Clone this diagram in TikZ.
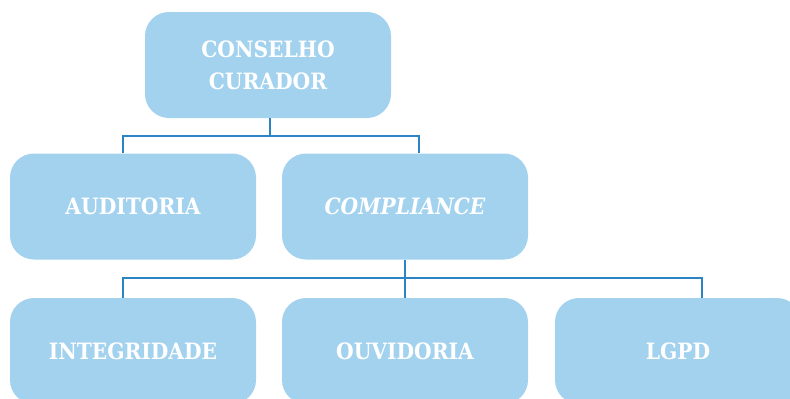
\documentclass[tikz,border=0pt]{standalone}
\usepackage{fontspec}
\setmainfont{DejaVu Serif Condensed}
\usetikzlibrary{positioning}
\definecolor{boxblue}{HTML}{A3D2EF}
\definecolor{lineblue}{HTML}{2B84C6}

\begin{document}
\begin{tikzpicture}[x=1pt, y=-1pt,
  box/.style={fill=boxblue, rounded corners=24pt, minimum width=246pt, minimum height=106pt,
    inner sep=0pt, text=white, align=center, font=\bfseries\fontsize{22.5}{32}\selectfont},
  link/.style={draw=lineblue, line width=1.3pt}]
\useasboundingbox (0,0) rectangle (790,399);
\clip (0,0) rectangle (790,399);
% boxes
\node[box] (curador) at (268,65) {CONSELHO\\CURADOR};
\node[box] (auditoria) at (133,206.5) {AUDITORIA};
\node[box] (compliance) at (405,206.5) {\itshape COMPLIANCE};
\node[box] (integridade) at (133,351) {INTEGRIDADE};
\node[box] (ouvidoria) at (405,351) {OUVIDORIA};
\node[box] (lgpd) at (678,351) {LGPD};
% connectors
\coordinate (busA) at (270,136);
\coordinate (busB) at (405,278);
\draw[link] (curador.south -| busA) -- (busA);
\draw[link] ([xshift=-10pt]auditoria.north) |- (busA) -| ([xshift=14pt]compliance.north);
\draw[link] (compliance.south) -- (busB);
\draw[link] ([xshift=-10pt]integridade.north) |- (busB) -- (ouvidoria.north);
\draw[link] (busB) -| ([xshift=24pt]lgpd.north);
\end{tikzpicture}
\end{document}
